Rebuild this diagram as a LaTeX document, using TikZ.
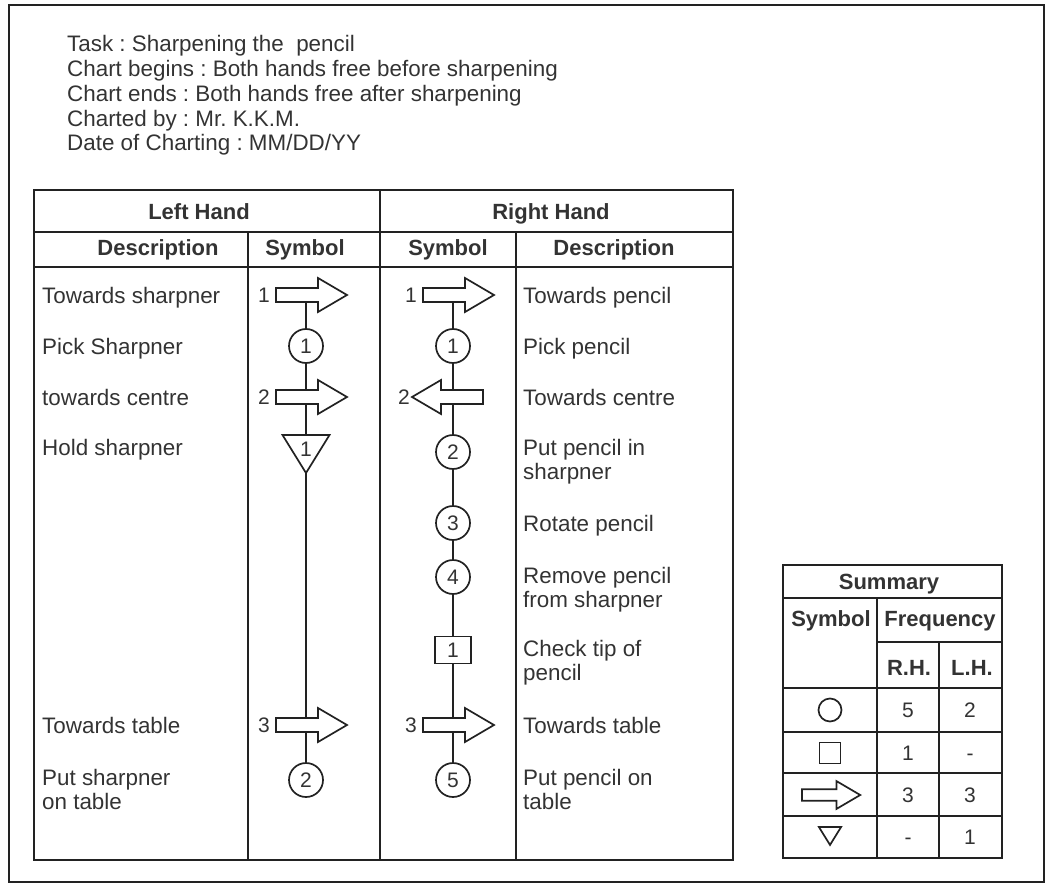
\documentclass[tikz,border=0pt]{standalone}
\usepackage{fontspec}
\setmainfont{Liberation Sans}
\usepackage{xcolor}
\usetikzlibrary{positioning}
\definecolor{inkgray}{HTML}{333333}
\definecolor{linegray}{HTML}{222222}
\frenchspacing

\tikzset{
  tline/.style={draw=linegray, line width=2.4pt},
  symline/.style={draw=linegray, line width=1.7pt},
  desc/.style={anchor=base west, align=left, inner sep=0pt, text=inkgray, font=\fontsize{22.4}{24.5}\selectfont},
  hd/.style={anchor=base, inner sep=0pt, text=inkgray, font=\bfseries\fontsize{22}{24}\selectfont},
  val/.style={anchor=base, inner sep=0pt, text=inkgray, font=\fontsize{21}{24}\selectfont},
  num/.style={anchor=east, inner sep=0pt, text=inkgray, font=\fontsize{21}{21}\selectfont},
  circ/.style={symline, circle, minimum size=34pt, inner sep=0pt, text=inkgray, font=\fontsize{21}{21}\selectfont},
  sqr/.style={symline, rectangle, minimum width=36pt, minimum height=27pt, inner sep=0pt, text=inkgray, font=\fontsize{21}{21}\selectfont},
  movearrow/.pic={
    \draw[symline, fill=white] (-30,-7) -- (12,-7) -- (12,-17) -- (41,0) -- (12,17) -- (12,7) -- (-30,7) -- cycle;
    \coordinate (-top) at (0,-7);
    \coordinate (-bot) at (0,7);
    \coordinate (-tail) at (-30,0);
    \coordinate (-tip) at (41,0);
  },
  holdtri/.pic={
    \draw[symline] (-23.5,-19) -- (23.5,-19) -- (0,19) -- cycle;
    \coordinate (-top) at (0,-19);
    \coordinate (-bot) at (0,19);
  },
}

\begin{document}
\begin{tikzpicture}[x=1pt, y=-1pt]
  \useasboundingbox (0,0) rectangle (1048,885);
  \draw[linegray, line width=2.5pt] (9,5) rectangle (1044,882);

  % Chart details (base = last line)
  \node[desc, font=\fontsize{22.4}{24.75}\selectfont] (info) at (67,151) {Task : Sharpening the\ \ pencil\\Chart begins : Both hands free before sharpening\\Chart ends : Both hands free after sharpening\\Charted by : Mr. K.K.M.\\Date of Charting : MM/DD/YY};

  % Main table
  \draw[tline] (34,190) rectangle (733,860);
  \draw[tline] (34,232) -- (733,232);
  \draw[tline] (34,267) -- (733,267);
  \draw[tline] (380,190) -- (380,860);
  \draw[tline] (248,232) -- (248,860);
  \draw[tline] (516,232) -- (516,860);
  \node[hd] (lhand) at (199,219) {Left Hand};
  \node[hd] (rhand) at (551,219) {Right Hand};
  \node[hd] (ldesc) at (158,255) {Description};
  \node[hd] (lsym) at (305,255) {Symbol};
  \node[hd] (rsym) at (448,255) {Symbol};
  \node[hd] (rdesc) at (614,255) {Description};

  % Left hand
  \node[desc] (lt1) at (42,303) {Towards sharpner};
  \node[desc] (lt2) at (42,354) {Pick Sharpner};
  \node[desc] (lt3) at (42,405) {towards centre};
  \node[desc] (lt4) at (42,455) {Hold sharpner};
  \node[desc] (lt5) at (42,733) {Towards table};
  \node[desc] (lt6) at (42,809.5) {Put sharpner\\on table};
  \pic (la1) at (306,295) {movearrow};
  \node[num, left=6pt of la1-tail] (la1n) {1};
  \node[circ] (lc1) at (306,346) {1};
  \pic (la2) at (306,397) {movearrow};
  \node[num, left=6pt of la2-tail] (la2n) {2};
  \pic (ltri) at (306,454) {holdtri};
  \node[text=inkgray, inner sep=0pt, font=\fontsize{21}{21}\selectfont] (ltrin) at (306,449) {1};
  \pic (la3) at (306,725) {movearrow};
  \node[num, left=6pt of la3-tail] (la3n) {3};
  \node[circ] (lc2) at (306,780) {2};
  \draw[symline] (la1-bot) -- (lc1);
  \draw[symline] (lc1) -- (la2-top);
  \draw[symline] (la2-bot) -- (ltri-top);
  \draw[symline] (ltri-bot) -- (la3-top);
  \draw[symline] (la3-bot) -- (lc2);

  % Right hand
  \node[desc] (rt1) at (523,303) {Towards pencil};
  \node[desc] (rt2) at (523,354) {Pick pencil};
  \node[desc] (rt3) at (523,405) {Towards centre};
  \node[desc] (rt4) at (523,479.5) {Put pencil in\\sharpner};
  \node[desc] (rt5) at (523,531) {Rotate pencil};
  \node[desc] (rt6) at (523,607.5) {Remove pencil\\from sharpner};
  \node[desc] (rt7) at (523,680.5) {Check tip of\\pencil};
  \node[desc] (rt8) at (523,733) {Towards table};
  \node[desc] (rt9) at (523,809.5) {Put pencil on\\table};
  \pic (ra1) at (453,295) {movearrow};
  \node[num, left=6pt of ra1-tail] (ra1n) {1};
  \node[circ] (rc1) at (453,346) {1};
  \pic[xscale=-1] (ra2) at (453,397) {movearrow};
  \node[num, left=2pt of ra2-tip] (ra2n) {2};
  \node[circ] (rc2) at (453,452) {2};
  \node[circ] (rc3) at (453,523) {3};
  \node[circ] (rc4) at (453,577) {4};
  \node[sqr] (rsq) at (453,650) {1};
  \pic (ra3) at (453,725) {movearrow};
  \node[num, left=6pt of ra3-tail] (ra3n) {3};
  \node[circ] (rc5) at (453,780) {5};
  \draw[symline] (ra1-bot) -- (rc1);
  \draw[symline] (rc1) -- (ra2-top);
  \draw[symline] (ra2-bot) -- (rc2);
  \draw[symline] (rc2) -- (rc3);
  \draw[symline] (rc3) -- (rc4);
  \draw[symline] (rc4) -- (rsq);
  \draw[symline] (rsq) -- (ra3-top);
  \draw[symline] (ra3-bot) -- (rc5);

  % Summary
  \draw[tline] (783,565) rectangle (1002,858);
  \draw[tline] (783,598) -- (1002,598);
  \draw[tline] (877,642) -- (1002,642);
  \foreach \yy in {688,732,773,816} \draw[tline] (783,\yy) -- (1002,\yy);
  \draw[tline] (877,598) -- (877,858);
  \draw[tline] (939,642) -- (939,858);
  \node[hd] (sumh) at (889,589) {Summary};
  \node[hd] (sumsym) at (831,626) {Symbol};
  \node[hd] (sumfreq) at (940,626) {Frequency};
  \node[hd] (sumrh) at (909,675) {R.H.};
  \node[hd] (sumlh) at (972,675) {L.H.};
  \draw[symline] (830,710) circle (11.5);
  \draw[symline] (819.5,742.5) rectangle ++(21,21);
  \pic[scale=0.82] (sarr) at (826.6,795) {movearrow};
  \pic[scale=0.47] (stri) at (830,836) {holdtri};
  \node[val] (v1r) at (908,717) {5};
  \node[val] (v1l) at (970,717) {2};
  \node[val] (v2r) at (908,760) {1};
  \node[val] (v2l) at (970,760) {-};
  \node[val] (v3r) at (908,802) {3};
  \node[val] (v3l) at (970,802) {3};
  \node[val] (v4r) at (908,844) {-};
  \node[val] (v4l) at (970,844) {1};
\end{tikzpicture}
\end{document}
